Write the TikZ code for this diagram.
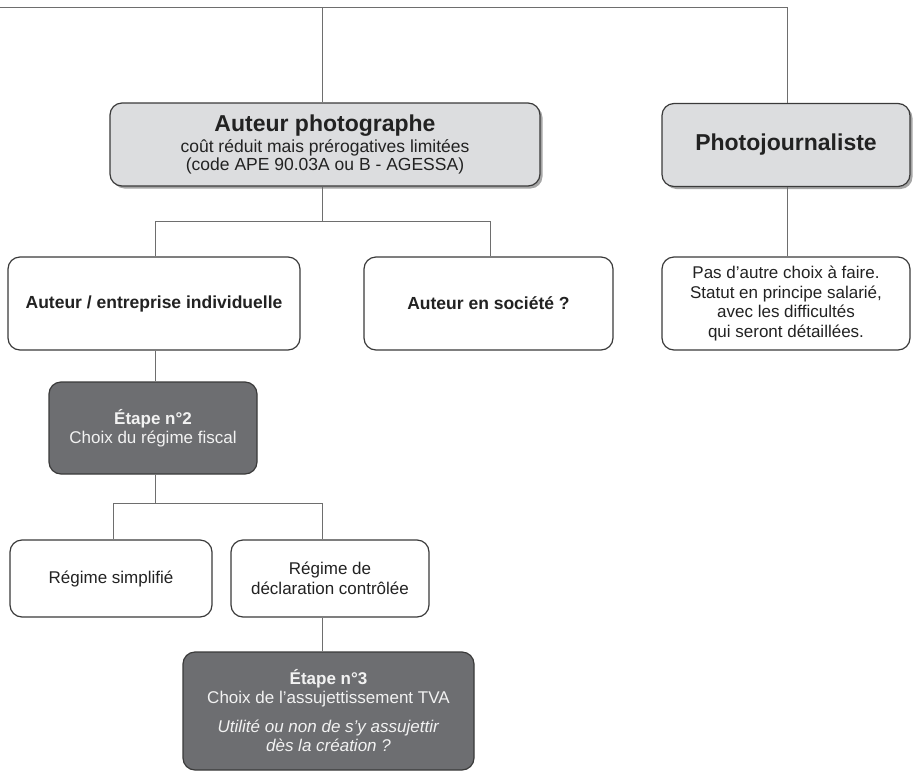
\documentclass[tikz,border=0pt]{standalone}
\usepackage{fontspec}
\setmainfont{Liberation Sans}
\usetikzlibrary{shadows}
\definecolor{lightbox}{HTML}{DCDDDF}
\definecolor{darkbox}{HTML}{6D6E71}
\definecolor{boxline}{HTML}{3A3A3A}
\definecolor{linkline}{HTML}{6E6E6E}
\definecolor{txt}{HTML}{222222}
\definecolor{lighttxt}{HTML}{F2F2F2}
\tikzset{
  basebox/.style={draw=boxline, line width=1.2pt, rounded corners=12pt, align=center, inner sep=0pt, text=txt},
  whitebox/.style={basebox, fill=white, font=\fontsize{17}{19.5}\selectfont},
  greybox/.style={basebox, fill=lightbox, drop shadow={shadow xshift=2.5pt, shadow yshift=-2.5pt, fill=black, opacity=0.35}},
  stagebox/.style={basebox, fill=darkbox, text=lighttxt, font=\fontsize{17}{19}\selectfont},
  link/.style={draw=linkline, line width=0.9pt},
}
\begin{document}
\begin{tikzpicture}[x=1pt, y=-1pt]
\useasboundingbox (0,0) rectangle (914,772);
% nodes
\node[greybox, minimum width=430pt, minimum height=83pt, font=\fontsize{17.5}{18.5}\selectfont] (ap) at (325,144.5)
  {{\fontsize{23}{23}\selectfont\bfseries Auteur photographe}\\[2.5pt]
   coût réduit mais prérogatives limitées\\
   (code APE 90.03A ou B - AGESSA)};
\node[greybox, minimum width=248pt, minimum height=83pt, font=\fontsize{23}{23}\selectfont\bfseries] (pj) at (786,145) {Photojournaliste};
\node[whitebox, minimum width=292pt, minimum height=93pt, font=\fontsize{17.5}{19}\selectfont\bfseries] (aei) at (154,303.5) {Auteur / entreprise individuelle};
\node[whitebox, minimum width=249pt, minimum height=93pt, font=\fontsize{17.5}{19}\selectfont\bfseries] (aes) at (488.5,303.5) {Auteur en société ?};
\node[whitebox, minimum width=248pt, minimum height=93pt] (pas) at (786,303.5)
  {Pas d’autre choix à faire.\\ Statut en principe salarié,\\ avec les difficultés\\ qui seront détaillées.};
\node[stagebox, minimum width=208pt, minimum height=92pt] (e2) at (153,428)
  {\textbf{Étape n°2}\\ Choix du régime fiscal};
\node[whitebox, minimum width=202pt, minimum height=77pt] (rs) at (111,578.5) {Régime simplifié};
\node[whitebox, minimum width=198pt, minimum height=77pt] (rdc) at (330,578.5) {Régime de\\ déclaration contrôlée};
\node[stagebox, minimum width=291pt, minimum height=118pt] (e3) at (328.5,711)
  {\textbf{Étape n°3}\\ Choix de l’assujettissement TVA\\[10pt]
   \textit{Utilité ou non de s’y assujettir}\\ \textit{dès la création ?}};
% junction coordinates
\coordinate (t0) at (0,7);
\coordinate (t1) at (322,7);
\coordinate (t2) at (787,7);
\coordinate (j1) at (322,221);
\coordinate (j1l) at (155,221);
\coordinate (j1r) at (490,221);
\coordinate (j2) at (155,503);
\coordinate (j2l) at (113,503);
\coordinate (j2r) at (322,503);
% connectors
\draw[link] (t0) -- (t2);
\draw[link] (t1) -- (t1 |- ap.north);
\draw[link] (t2) -- (t2 |- pj.north);
\draw[link] (j1 |- ap.south) -- (j1);
\draw[link] (j1l) -- (j1r);
\draw[link] (j1l) -- (j1l |- aei.north);
\draw[link] (j1r) -- (j1r |- aes.north);
\draw[link] (t2 |- pj.south) -- (t2 |- pas.north);
\draw[link] (j1l |- aei.south) -- (j1l |- e2.north);
\draw[link] (j2 |- e2.south) -- (j2);
\draw[link] (j2l) -- (j2r);
\draw[link] (j2l) -- (j2l |- rs.north);
\draw[link] (j2r) -- (j2r |- rdc.north);
\draw[link] (j2r |- rdc.south) -- (j2r |- e3.north);
\end{tikzpicture}
\end{document}
